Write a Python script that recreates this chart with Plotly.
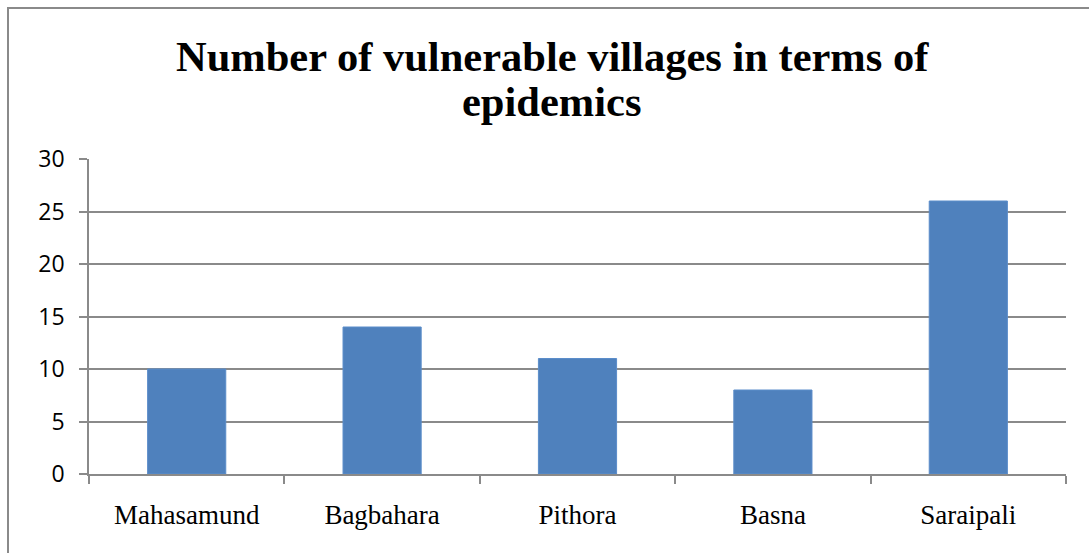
import plotly.graph_objects as go

categories = ["Mahasamund", "Bagbahara", "Pithora", "Basna", "Saraipali"]
values = [10, 14, 11, 8, 26]
y_ticks = [0, 5, 10, 15, 20, 25, 30]
title_lines = ["Number of vulnerable villages in terms of", "epidemics"]

W, H = 1089, 553
L, R, T, B = 89, 23, 159, 79
pw, ph = W - L - R, H - T - B

def px_x(px):
    return (px - L) / pw

def px_y(py):
    return (H - B - py) / ph

fig = go.Figure(go.Bar(
    x=categories, y=values,
    marker=dict(color="#4F81BD", line=dict(color="#5B8DCA", width=1)),
))

grey = "#8a8a8a"
title_font = dict(family="Liberation Serif", size=42.5, color="black", weight="bold")
fig.update_layout(
    width=W, height=H,
    margin=dict(l=L, r=R, t=T, b=B, pad=0),
    paper_bgcolor="white", plot_bgcolor="white",
    showlegend=False,
    bargap=0.6,
    xaxis=dict(
        type="category", tickson="boundaries",
        showline=True, linecolor=grey, linewidth=1.5,
        ticks="outside", ticklen=8, tickcolor=grey, tickwidth=1.5,
        showgrid=False,
        tickfont=dict(family="Liberation Serif", size=27, color="black"),
        ticklabelstandoff=16,
    ),
    yaxis=dict(
        range=[0, 30], tickvals=y_ticks,
        showline=True, linecolor=grey, linewidth=1.5,
        ticks="outside", ticklen=8, tickcolor=grey, tickwidth=1.5,
        showgrid=True, gridcolor=grey, gridwidth=1.5,
        zeroline=False,
        tickfont=dict(family="Open Sans", size=23, color="black"),
        ticklabelstandoff=10,
    ),
    shapes=[dict(
        type="rect", xref="paper", yref="paper",
        x0=px_x(8), x1=px_x(1100), y0=px_y(560), y1=px_y(8),
        line=dict(color=grey, width=2), fillcolor="rgba(0,0,0,0)", layer="above",
    )],
    annotations=[
        dict(text=title_lines[0], xref="paper", yref="paper",
             x=px_x(552), y=px_y(56), xanchor="center", yanchor="middle",
             showarrow=False, font=title_font),
        dict(text=title_lines[1], xref="paper", yref="paper",
             x=px_x(551), y=px_y(101), xanchor="center", yanchor="middle",
             showarrow=False, font=title_font),
    ],
)

fig.write_html("out.html")
